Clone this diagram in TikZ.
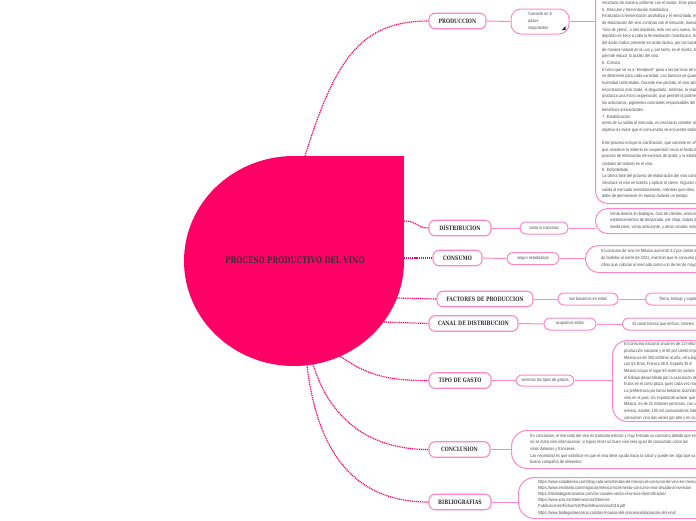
\documentclass[tikz,border=0pt]{standalone}
\usepackage{fontspec}
\setmainfont[FakeStretch=0.85]{Liberation Sans}
\newfontfamily\slabfont[FakeStretch=0.78]{DejaVu Serif}
\usepackage{tikz}
\usetikzlibrary{backgrounds}
\usepackage{xcolor}
\definecolor{vinopink}{HTML}{FF0066}
\definecolor{ramapink}{HTML}{FF88C2}
\definecolor{titgray}{HTML}{333333}
\definecolor{txtgray}{HTML}{4D4D4D}
\tikzset{
  tema/.style={draw=ramapink, line width=1.1pt, fill=white, rounded corners=6pt,
    minimum height=15.5pt, inner sep=0pt, text=titgray,
    font=\slabfont\bfseries\fontsize{6}{7}\selectfont},
  subtema/.style={draw=ramapink, line width=1pt, fill=white, rounded corners=6pt,
    minimum height=12pt, inner sep=0pt, text=txtgray, font=\fontsize{4.5}{6.67}\selectfont},
  caja/.style={draw=ramapink, line width=1pt, fill=white, rounded corners=#1,
    anchor=north west, inner sep=0pt},
  renglon/.style={anchor=west, inner sep=0pt, text=txtgray, font=\fontsize{4.5}{5}\selectfont},
  rama/.style={draw=vinopink, line width=1.2pt, dash pattern=on 1.1pt off 0.8pt},
  enlace/.style={draw=ramapink, line width=1pt},
}

\begin{document}
\begin{tikzpicture}[x=1pt, y=-1pt]
  \useasboundingbox (0,0) rectangle (696,520);
  \clip (0,0) rectangle (696,520);
  % forma central
  \fill[vinopink] (294,261) ellipse[x radius=110, y radius=105];
  \fill[vinopink] (294,156) rectangle (404,261);
  \node[text=titgray, font=\slabfont\bfseries\fontsize{9}{10}\selectfont] (titulo) at (295,260) {PROCESO PRODUCTIVO DEL VINO};
  \coordinate (salprod) at (305,156);
  \coordinate (saldist) at (404,221);
  \coordinate (salcons) at (404,258);
  \coordinate (salfact) at (397,298);
  \coordinate (salcanal) at (384,322);
  \coordinate (saltipo) at (340,356);
  \coordinate (salconc) at (313,364);
  \coordinate (salbib) at (307,365);

  % temas
  \node[tema, minimum width=57pt] (produccion) at (457.5,21) {PRODUCCION};
  \node[tema, minimum width=62pt] (distribucion) at (460,228) {DISTRIBUCION};
  \node[tema, minimum width=49pt] (consumo) at (457.5,258) {CONSUMO};
  \node[tema, minimum width=96pt] (factores) at (485,299) {FACTORES DE PRODUCCION};
  \node[tema, minimum width=89pt] (canal) at (473.5,323.5) {CANAL DE DISTRIBUCION};
  \node[tema, minimum width=62pt] (tipo) at (460,380.5) {TIPO DE GASTO};
  \node[tema, minimum width=61pt] (conclusion) at (459.5,449.5) {CONCLUSION};
  \node[tema, minimum width=62pt] (bibliografias) at (460,502) {BIBLIOGRAFIAS};

  % subtemas
  \node[subtema, minimum width=58pt, minimum height=25pt, rounded corners=10pt, align=left] (pasos) at (540,21.5) {Consiste en 8\\pasos\\importantes};
  \fill[titgray] (561.5,30) -- (565.5,30) -- (565.5,26) -- cycle;
  \node[subtema, minimum width=48pt] (hacemos) at (544,228) {como lo hacemos};
  \node[subtema, minimum width=52pt] (estadisticas) at (533,258.5) {segun estadisticas};
  \node[subtema, minimum width=60pt] (basamos) at (588,299) {nos basamos en estos};
  \node[subtema, minimum width=66pt, anchor=west] (tierra) at (645,299) {Tierra, trabajo y capital};
  \node[subtema, minimum width=52pt] (ocupamos) at (570,324) {ocupamos estos};
  \node[subtema, inner xsep=10pt, anchor=west] (horeca) at (622,324) {El canal horeca que enfoca: hoteles, restaurantes y bares};
  \node[subtema, minimum width=58pt, minimum height=11pt] (veremos) at (545,380.5) {veremos los tipos de gastos};

  % cajas de texto
  \node[caja=12pt, minimum width=180pt, minimum height=223pt] (cajaprod) at (595,-20) {};
  \node[caja=12pt, minimum width=180pt, minimum height=25pt] (cajadist) at (595,208) {};
  \node[caja=13pt, minimum width=190pt, minimum height=27pt] (cajacons) at (585,245) {};
  \node[caja=15pt, minimum width=170pt, minimum height=81pt] (cajatipo) at (612,340) {};
  \node[caja=16pt, minimum width=260pt, minimum height=38pt] (cajaconc) at (511,430) {};
  \node[caja=16pt, minimum width=260pt, minimum height=41pt] (cajabib) at (518,477) {};

  \foreach \linea [count=\i from -2] in {
    {pasar un tiempo en contacto con los hollejos, se procede a},
    {mezclarlo de manera uniforme con el mosto. Este proceso se},
    {5. Descube y fermentación maloláctica},
    {Finalizada la fermentación alcohólica y el remontado, el proceso},
    {de elaboración del vino continúa con el descube, trasvasando el},
    {“vino de yema”, a otro depósito, esta vez uno nuevo. En este},
    {depósito se lleva a cabo la fermentación maloláctica, transformación},
    {del ácido málico presente en ácido láctico, por las bacterias},
    {de manera natural en la uva y, por tanto, en el mosto. Este proceso},
    {permite reducir la acidez del vino.},
    {6. Crianza},
    {El vino que se va a “envejecer” pasa a las barricas de roble el tiempo},
    {se determine para cada variedad. Las barricas se guardan en naves de},
    {humedad controladas. Durante ese periodo, el vino adquiere los aromas},
    {encontramos más tarde, al degustarlo. Además, la madera de roble},
    {produzca una micro oxigenación, que permite la polimerización de},
    {los antocianos, pigmentos colorantes responsables del color y con},
    {beneficios antioxidantes.},
    {7. Estabilización},
    {antes de su salida al mercado, es necesario someter al vino a un},
    {objetivo es evitar que el consumidor se encuentre sedimentos.},
    {},
    {Este proceso incluye la clarificación, que consiste en añadir sustancias},
    {que arrastran la materia en suspensión hacia el fondo del depósito},
    {proceso de eliminación de excesos de ácido; y la estabilización},
    {cristales de tartrato en el vino.},
    {8. Embotellado},
    {La última fase del proceso de elaboración del vino consiste en},
    {introducir el vino en botella y aplicar el cierre. Algunos vinos},
    {salida al mercado inmediatamente, mientras que otros, como los},
    {debe de permanecer en reposo durante un tiempo.}}
    \node[renglon] (lprod\i) at (602,{10+6.67*(\i)}) {\linea};

  \foreach \linea [count=\i from 0] in {
    {Venta directa en bodegas, club de clientes, enoturismo, tiendas},
    {establecimientos de temporada, pet shop, clubes de vino, ferias},
    {medievales, venta ambulante, y otros canales minoristas.}}
    \node[renglon] (ldist\i) at (610,{214+6.67*\i}) {\linea};

  \foreach \linea [count=\i from 0] in {
    {El consumo de vino en México aumentó 3.2 por ciento en millones},
    {de botellas al cierre de 2021, mientras que el consumo per cápita},
    {cifras que colocan al mercado como uno de los de mayor crecimiento}}
    \node[renglon] (lcons\i) at (601,{251.7+6.67*\i}) {\linea};

  \foreach \linea [count=\i from 0] in {
    {El consumo nacional anual es de 23 millones de litros, de los cuales},
    {producción nacional y el 60 por ciento importado. El consumo per},
    {México es de 350 mililitros al año, cifra baja comparada con},
    {con 63 litros, Francia 58.8, España 45.8},
    {México ocupa el lugar 65 entre los países consumidores de vino},
    {el trabajo desarrollado por la asociación de vitivinicultores},
    {frutos en el corto plazo, pues cada vez más mexicanos},
    {La preferencia por tomar bebidas alcohólicas de calidad ha},
    {vino en el país. Es importante aclarar que el mercado potencial},
    {México, es de 22 millones personas, con un poder adquisitivo},
    {méxico, existen 100 mil consumidores habituales y un millón},
    {consumen vino dos veces por año y en ocasiones especiales.}}
    \node[renglon] (ltipo\i) at (624,{344.5+6.67*\i}) {\linea};

  \foreach \linea [count=\i from 0] in {
    {En conclusion, el mercado del vino es bastante estricto y muy limitado su consumo debido que en México},
    {no se toma vino internacional, si logras tener un buen vino sera igual de consumido como los},
    {vinos italianos y franceses.},
    {Las necesidad es que satisface es que el vino tiene ayuda hacia la salud y puede ser algo que va de},
    {buena compañía de alimentos.}}
    \node[renglon] (lconc\i) at (530,{436+6.67*\i}) {\linea};

  \foreach \linea [count=\i from 0] in {
    {https://www.catadelvino.com/blog-cata-vino/tiendas-de-mexico-el-consumo-de-vino-en-mexico},
    {https://www.emilianto.com/negocios/mexico-incrementa-consumo-vino-decada-a-inversion},
    {https://diariodegastronomia.com/los-canales-venta-vino-mas-diversificados/},
    {https://www.icex.es/Internacional/Informes-},
    {Publicaciones/Fichas\%20Pais/Mexico/vino2018.pdf},
    {https://www.bodegaslaescena.com/los-8-pasos-del-proceso-elaboracion-del-vino/}}
    \node[renglon] (lbib\i) at (538,{482+6.2*\i}) {\linea};

  \begin{scope}[on background layer]
    % ramas punteadas
    \draw[rama] (salprod) .. controls (335,60) and (360,21) .. (produccion.west);
    \draw[rama] (saldist) .. controls (418,221) and (416,228) .. (distribucion.west);
    \draw[rama] (salcons) -- (consumo.west);
    \draw[rama] (salfact) -- (factores.west);
    \draw[rama] (salcanal) -- (canal.west);
    \draw[rama] (saltipo) .. controls (370,378) and (395,380.5) .. (tipo.west);
    \draw[rama] (salconc) .. controls (330,420) and (370,449.5) .. (conclusion.west);
    \draw[rama] (salbib) .. controls (318,460) and (360,502) .. (bibliografias.west);
    % enlaces
    \draw[enlace] (produccion.east) -- (pasos.west);
    \draw[enlace] (pasos.east) -- (pasos.east -| cajaprod.west);
    \draw[enlace] (distribucion.east) -- (hacemos.west);
    \draw[enlace] (hacemos.east) -- (hacemos.east -| cajadist.west);
    \draw[enlace] (consumo.east) -- (estadisticas.west);
    \draw[enlace] (estadisticas.east) -- (estadisticas.east -| cajacons.west);
    \draw[enlace] (factores.east) -- (basamos.west);
    \draw[enlace] (basamos.east) -- (tierra.west);
    \draw[enlace] (canal.east) -- (ocupamos.west);
    \draw[enlace] (ocupamos.east) -- (horeca.west);
    \draw[enlace] (tipo.east) -- (veremos.west);
    \draw[enlace] (veremos.east) -- (veremos.east -| cajatipo.west);
    \draw[enlace] (conclusion.east) -- (conclusion.east -| cajaconc.west);
    \draw[enlace] (bibliografias.east) -- (bibliografias.east -| cajabib.west);
  \end{scope}
\end{tikzpicture}
\end{document}
